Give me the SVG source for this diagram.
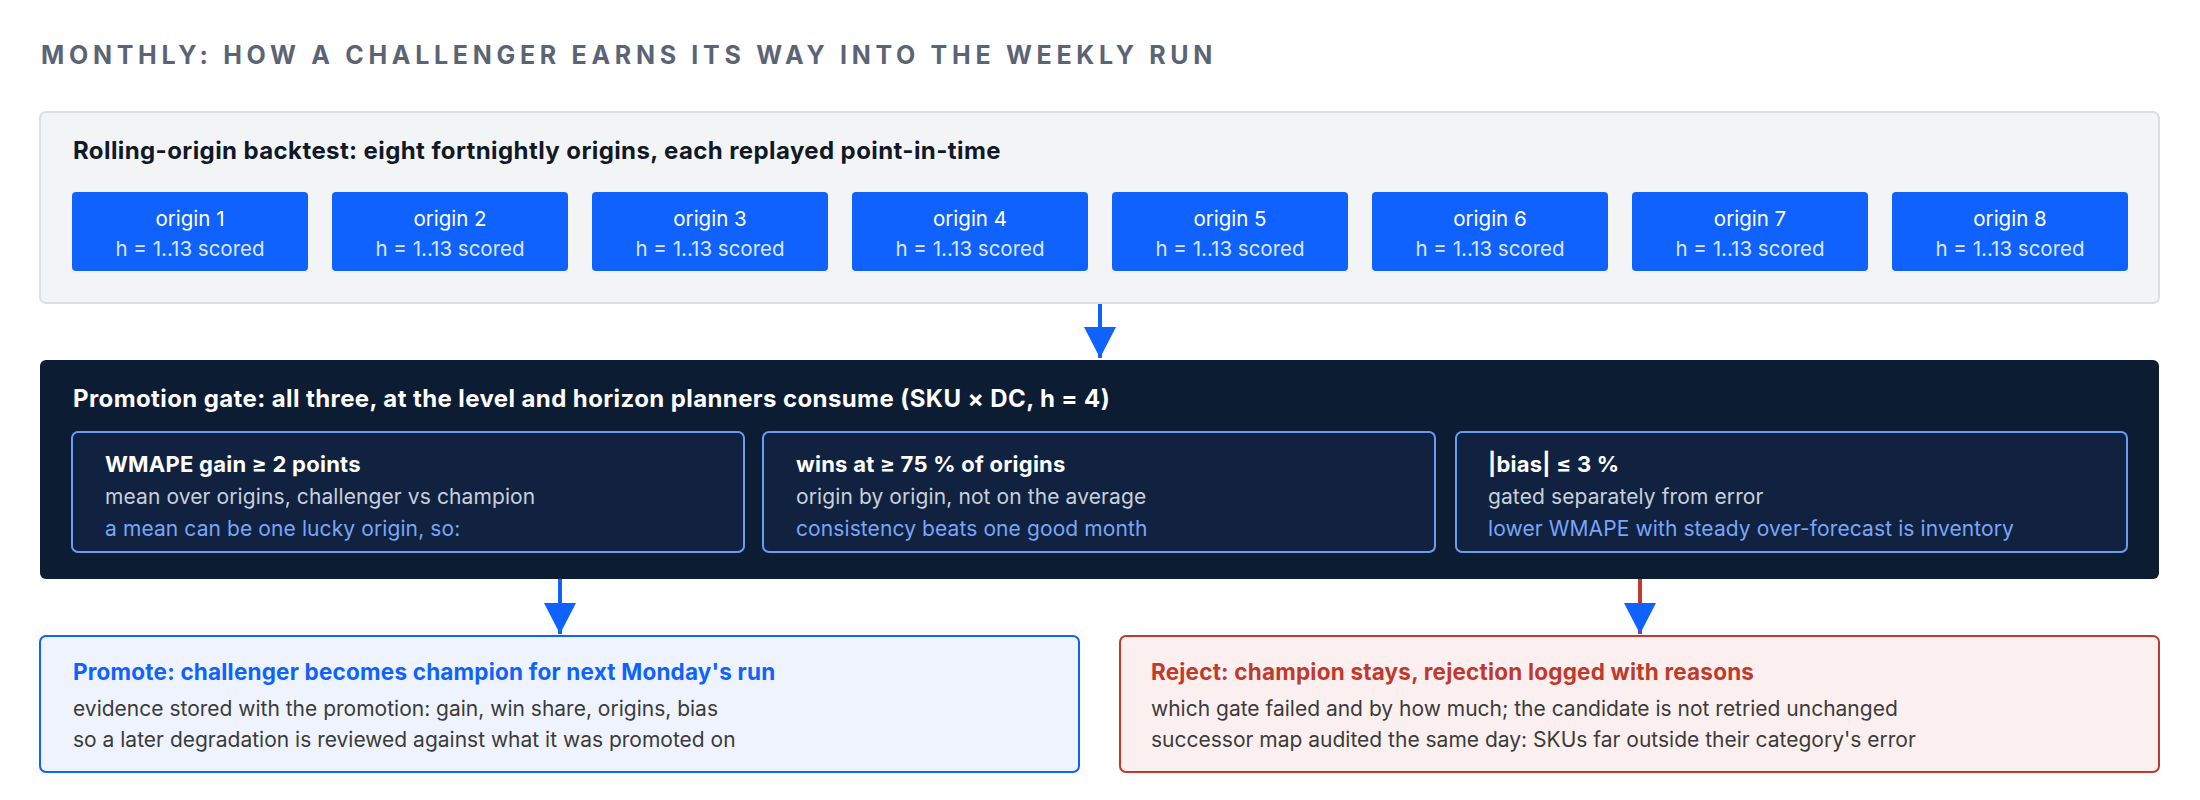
<svg xmlns="http://www.w3.org/2000/svg" width="2200" height="800" viewBox="0 0 2200 800">
<defs>
<style>
text{font-family:Inter,"Liberation Sans","DejaVu Sans",sans-serif}
.ttl{font-size:25px;font-weight:700;fill:#5b6474;letter-spacing:4.7px}
.hd{font-size:24px;font-weight:700;letter-spacing:0.4px}
.og{fill:#0f62fe}
.o1{font-size:20.5px;fill:#ffffff;text-anchor:middle}
.o2{font-size:20.5px;fill:#dce6ff;text-anchor:middle}
.sb{fill:#102240;stroke:#6b9bf5;stroke-width:2}
.s1{font-size:22px;font-weight:700;fill:#ffffff;letter-spacing:0.25px}
.s2{font-size:21px;fill:#c8d0dc;letter-spacing:0.1px}
.s3{font-size:21px;fill:#79a6f7;letter-spacing:0.1px}
.b1{font-size:22.5px;font-weight:700;letter-spacing:0.2px}
.b2{font-size:21px;fill:#3b3b3b}
.cb{stroke:#0f62fe;stroke-width:4;fill:none}
.cr{stroke:#c0392b;stroke-width:4;fill:none}
</style>
<marker id="ah" markerUnits="userSpaceOnUse" markerWidth="32" markerHeight="32" refX="31" refY="16" orient="auto">
<path d="M0,0 L31,16 L0,32 Z" fill="#0f62fe"/>
</marker>
</defs>
<rect width="2200" height="800" fill="#ffffff"/>
<text class="ttl" x="41" y="64">MONTHLY: HOW A CHALLENGER EARNS ITS WAY INTO THE WEEKLY RUN</text>

<g id="backtest">
<rect x="40" y="112" width="2119" height="191" rx="6" fill="#f3f4f6" stroke="#dcdee3" stroke-width="2"/>
<text class="hd" x="73" y="159" fill="#111827">Rolling-origin backtest: eight fortnightly origins, each replayed point-in-time</text>
</g>
<g id="origin1"><rect class="og" x="72" y="192" width="236" height="79" rx="4"/><text class="o1" x="190" y="226">origin 1</text><text class="o2" x="190" y="256">h = 1..13 scored</text></g>
<g id="origin2"><rect class="og" x="332" y="192" width="236" height="79" rx="4"/><text class="o1" x="450" y="226">origin 2</text><text class="o2" x="450" y="256">h = 1..13 scored</text></g>
<g id="origin3"><rect class="og" x="592" y="192" width="236" height="79" rx="4"/><text class="o1" x="710" y="226">origin 3</text><text class="o2" x="710" y="256">h = 1..13 scored</text></g>
<g id="origin4"><rect class="og" x="852" y="192" width="236" height="79" rx="4"/><text class="o1" x="970" y="226">origin 4</text><text class="o2" x="970" y="256">h = 1..13 scored</text></g>
<g id="origin5"><rect class="og" x="1112" y="192" width="236" height="79" rx="4"/><text class="o1" x="1230" y="226">origin 5</text><text class="o2" x="1230" y="256">h = 1..13 scored</text></g>
<g id="origin6"><rect class="og" x="1372" y="192" width="236" height="79" rx="4"/><text class="o1" x="1490" y="226">origin 6</text><text class="o2" x="1490" y="256">h = 1..13 scored</text></g>
<g id="origin7"><rect class="og" x="1632" y="192" width="236" height="79" rx="4"/><text class="o1" x="1750" y="226">origin 7</text><text class="o2" x="1750" y="256">h = 1..13 scored</text></g>
<g id="origin8"><rect class="og" x="1892" y="192" width="236" height="79" rx="4"/><text class="o1" x="2010" y="226">origin 8</text><text class="o2" x="2010" y="256">h = 1..13 scored</text></g>

<g id="gate">
<rect x="40" y="360" width="2119" height="219" rx="6" fill="#0c1c33"/>
<text class="hd" x="73" y="407" fill="#ffffff">Promotion gate: all three, at the level and horizon planners consume (SKU × DC, h = 4)</text>
</g>
<g id="gate-wmape">
<rect class="sb" x="72" y="432" width="672" height="120" rx="6"/>
<text class="s1" x="105" y="472">WMAPE gain ≥ 2 points</text>
<text class="s2" x="105" y="504">mean over origins, challenger vs champion</text>
<text class="s3" x="105" y="536">a mean can be one lucky origin, so:</text>
</g>
<g id="gate-wins">
<rect class="sb" x="763" y="432" width="672" height="120" rx="6"/>
<text class="s1" x="796" y="472">wins at ≥ 75 % of origins</text>
<text class="s2" x="796" y="504">origin by origin, not on the average</text>
<text class="s3" x="796" y="536">consistency beats one good month</text>
</g>
<g id="gate-bias">
<rect class="sb" x="1456" y="432" width="671" height="120" rx="6"/>
<text class="s1" x="1488" y="472">|bias| ≤ 3 %</text>
<text class="s2" x="1488" y="504">gated separately from error</text>
<text class="s3" x="1488" y="536">lower WMAPE with steady over-forecast is inventory</text>
</g>

<g id="promote">
<rect x="40" y="636" width="1039" height="136" rx="6" fill="#eef3fe" stroke="#0f62fe" stroke-width="2"/>
<text class="b1" x="73" y="680" fill="#0f62fe">Promote: challenger becomes champion for next Monday's run</text>
<text class="b2" x="73" y="716">evidence stored with the promotion: gain, win share, origins, bias</text>
<text class="b2" x="73" y="747">so a later degradation is reviewed against what it was promoted on</text>
</g>
<g id="reject">
<rect x="1120" y="636" width="1039" height="136" rx="6" fill="#fcefef" stroke="#c0392b" stroke-width="2"/>
<text class="b1" x="1151" y="680" fill="#c0392b">Reject: champion stays, rejection logged with reasons</text>
<text class="b2" x="1151" y="716">which gate failed and by how much; the candidate is not retried unchanged</text>
<text class="b2" x="1151" y="747">successor map audited the same day: SKUs far outside their category's error</text>
</g>

<g id="connectors">
<line class="cb" x1="1100" y1="304" x2="1100" y2="358" marker-end="url(#ah)"/>
<line class="cb" x1="560" y1="579" x2="560" y2="634" marker-end="url(#ah)"/>
<line class="cr" x1="1640" y1="579" x2="1640" y2="634" marker-end="url(#ah)"/>
</g>
</svg>
